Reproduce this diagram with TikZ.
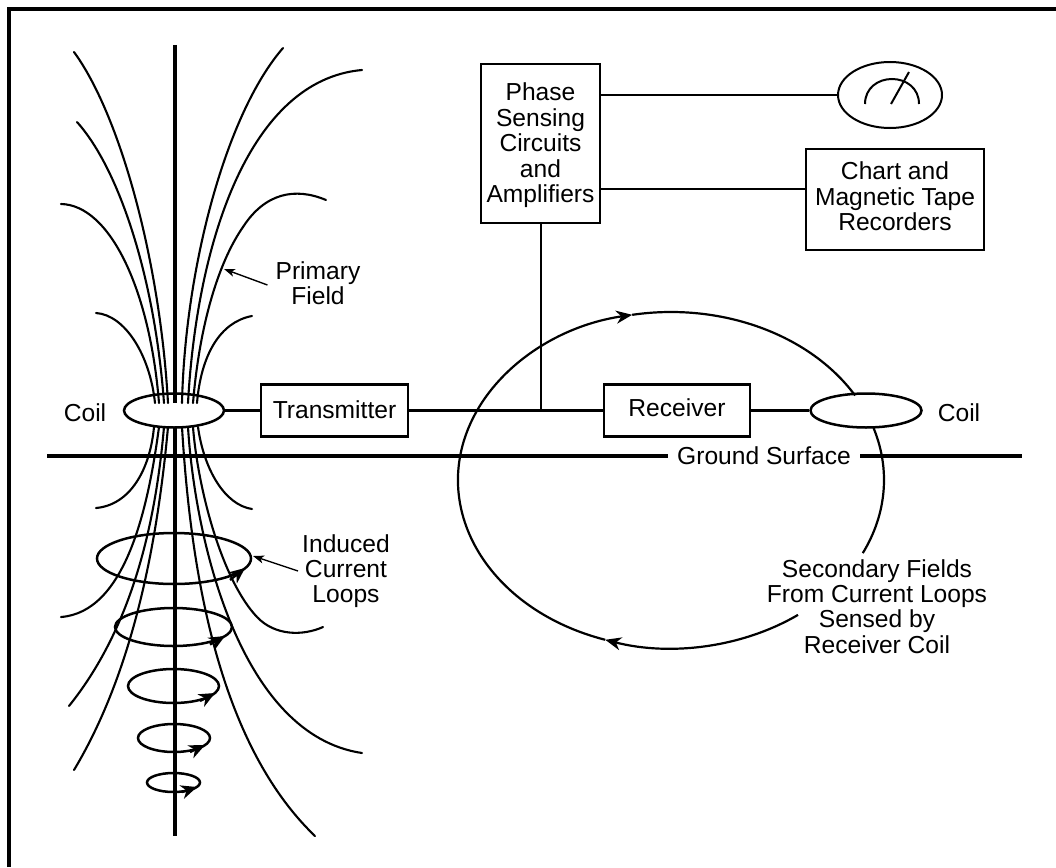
\documentclass[tikz,border=0pt]{standalone}
\usepackage{fontspec}
\setmainfont{Liberation Sans}
\usetikzlibrary{shapes.geometric,arrows.meta}
\newcommand{\stk}[2]{\raisebox{#1}[\height][\depth]{\begin{tabular}{@{}c@{}}#2\end{tabular}}}
\tikzset{
  lbl/.style={align=center,inner sep=0pt,font=\fontsize{24.6}{25.2}\selectfont},
  boxn/.style={draw,line width=2.8pt,align=center,inner sep=0pt,font=\fontsize{24.6}{25.5}\selectfont},
  oval/.style={draw,ellipse,inner sep=0pt,line width=2.5pt},
  mainwire/.style={line width=3pt},
  wire/.style={line width=2pt},
  field/.style={line width=2.1pt,line cap=round},
  axisline/.style={line width=3.2pt},
  pointer/.style={line width=1.4pt,-{Stealth[length=11pt,width=8pt,inset=3pt]}},
  flow/.style={line width=2.4pt,-{Stealth[length=16pt,width=13pt,inset=5pt]}},
  loopflow/.style={line width=2.4pt,-{Stealth[length=16pt,width=14pt,inset=5pt]}},
}
\begin{document}
\begin{tikzpicture}[x=1pt,y=-1pt]
\useasboundingbox (0,0) rectangle (1056,867);
\fill[white] (0,0) rectangle (1056,867);
% frame
\draw[line width=4pt] (9,867) -- (9,9) -- (1056,9);
% coils
\node[oval,minimum width=100pt,minimum height=34pt] (coilL) at (174,410.5) {};
\node[oval,minimum width=111pt,minimum height=34pt] (coilR) at (866,410.5) {};
% axis
\coordinate (axT) at (175,45);
\coordinate (axA) at (175,403);
\coordinate (axB) at (175,427);
\coordinate (axE) at (175,836);
\draw[axisline] (axT) -- (axA);
\draw[axisline] (axB) -- (axE);
% upper field lines
\draw[field] (74,52) .. controls (120,115) and (160,260) .. (168,403);
\draw[field] (77,122) .. controls (120,170) and (155,280) .. (164,403);
\draw[field] (61,204) .. controls (110,205) and (150,290) .. (159,403);
\draw[field] (96,313) .. controls (125,315) and (150,355) .. (155,403);
\draw[field] (283,48) .. controls (225,115) and (185,270) .. (182,403);
\draw[field] (362,70) .. controls (250,80) and (197,240) .. (188,403);
\draw[field] (326,200) .. controls (295,187) and (265,193) .. (243,227) .. controls (220,260) and (200,320) .. (193,403);
\draw[field] (252,316) .. controls (220,322) and (201,355) .. (197,403);
% lower field lines
\draw[field] (154,427) .. controls (150,470) and (130,505) .. (96,508);
\draw[field] (198,427) .. controls (204,470) and (225,505) .. (252,509);
\draw[field] (159,427) .. controls (148,510) and (125,612) .. (61,617);
\draw[field] (193,427) .. controls (198,490) and (222,580) .. (257,617) .. controls (275,636) and (303,636) .. (323,627);
\draw[field] (164,427) .. controls (155,530) and (130,630) .. (69,706);
\draw[field] (188,427) .. controls (195,540) and (240,735) .. (362,753);
\draw[field] (168,427) .. controls (155,570) and (125,685) .. (74,770);
\draw[field] (182,427) .. controls (190,560) and (215,740) .. (315,836);
% induced current loops
\node[oval,minimum width=154pt,minimum height=51pt] (loopA) at (174,558.5) {};
\node[oval,minimum width=117pt,minimum height=38pt] (loopB) at (173.5,627) {};
\node[oval,minimum width=91pt,minimum height=34pt] (loopC) at (173.5,686) {};
\node[oval,minimum width=72pt,minimum height=28pt] (loopD) at (174,738) {};
\node[oval,minimum width=53pt,minimum height=19pt] (loopE) at (173.5,782.5) {};
\draw[loopflow] ([shift={(56,21.5)}]loopA.center) -- ([shift={(71,9.5)}]loopA.center);
\draw[loopflow] ([shift={(36.5,17.5)}]loopB.center) -- ([shift={(51.5,9)}]loopB.center);
\draw[loopflow] ([shift={(26.5,15)}]loopC.center) -- ([shift={(41.5,7)}]loopC.center);
\draw[loopflow] ([shift={(16,14)}]loopD.center) -- ([shift={(31,7)}]loopD.center);
\draw[loopflow] ([shift={(8.5,9.5)}]loopE.center) -- ([shift={(23.5,4.5)}]loopE.center);
% boxes
\node[boxn,minimum width=147pt,minimum height=52pt] (tx) at (334.5,410.5) {\stk{-2.5pt}{Transmitter}};
\node[boxn,minimum width=146pt,minimum height=52pt] (rx) at (677,410.5) {\stk{-0.5pt}{Receiver}};
\node[boxn,minimum width=119pt,minimum height=159pt] (phase) at (540.5,143.5) {\stk{-3pt}{Phase\\Sensing\\Circuits\\and\\Amplifiers}};
\node[boxn,minimum width=178pt,minimum height=101pt] (chart) at (895,199.5) {\stk{-0.5pt}{Chart and\\Magnetic Tape\\Recorders}};
\node[oval,line width=2pt,minimum width=104pt,minimum height=66pt] (meter) at (890,95) {};
\draw[line width=2pt] (865,104) .. controls (865,88) and (878,79) .. (892,79) .. controls (906,79) and (919,88) .. (919,104);
\draw[line width=2pt] (891,104) -- (909,72);
% wires
\draw[mainwire] (coilL.east) -- (tx.west);
\draw[mainwire] (tx.east) -- (rx.west);
\draw[mainwire] (rx.east) -- (coilR.west);
\draw[wire] (phase.south) -- (phase.south |- tx.east);
\draw[wire] (meter.west -| phase.east) -- (meter.west);
\draw[wire] (chart.west |- 0,188.5) -- (phase.east |- 0,188.5);
% ground
\node[lbl,inner xsep=9pt] (ground) at (764,456) {Ground Surface};
\coordinate (gL) at (47,456);
\coordinate (gR) at (1022,456);
\draw[line width=3.2pt] (gL) -- (ground.west);
\draw[line width=3.2pt] (ground.east) -- (gR);
% secondary field
\coordinate (sec) at (671,480);
\draw[line width=2.2pt] (sec) ++(-18:213 and 168) arc[start angle=-18,end angle=25.8,x radius=213,y radius=168];
\draw[flow,line width=2.2pt] (sec) ++(53.4:213 and 168) arc[start angle=53.4,end angle=108,x radius=213,y radius=168];
\draw[flow,line width=2.2pt] (sec) ++(108:213 and 168) arc[start angle=108,end angle=259.5,x radius=213,y radius=168];
\draw[line width=2.2pt] (sec) ++(259.5:213 and 168) arc[start angle=259.5,end angle=329.8,x radius=213,y radius=168];
% labels
\node[lbl] (coilLt) at (85,413) {Coil};
\node[lbl] (coilRt) at (959,413) {Coil};
\node[lbl] (prim) at (318,283) {Primary\\Field};
\node[lbl] (ind) at (346,571) {Induced\\Current\\Loops};
\node[lbl] (second) at (877,606.5) {Secondary Fields\\From Current Loops\\Sensed by\\Receiver Coil};
\coordinate (pTip) at (224,269);
\coordinate (iTip) at (253,556);
\draw[pointer] (prim.west) ++(-8,2) -- (pTip);
\draw[pointer] (ind.west) ++(-4,0) -- (iTip);
\end{tikzpicture}
\end{document}
